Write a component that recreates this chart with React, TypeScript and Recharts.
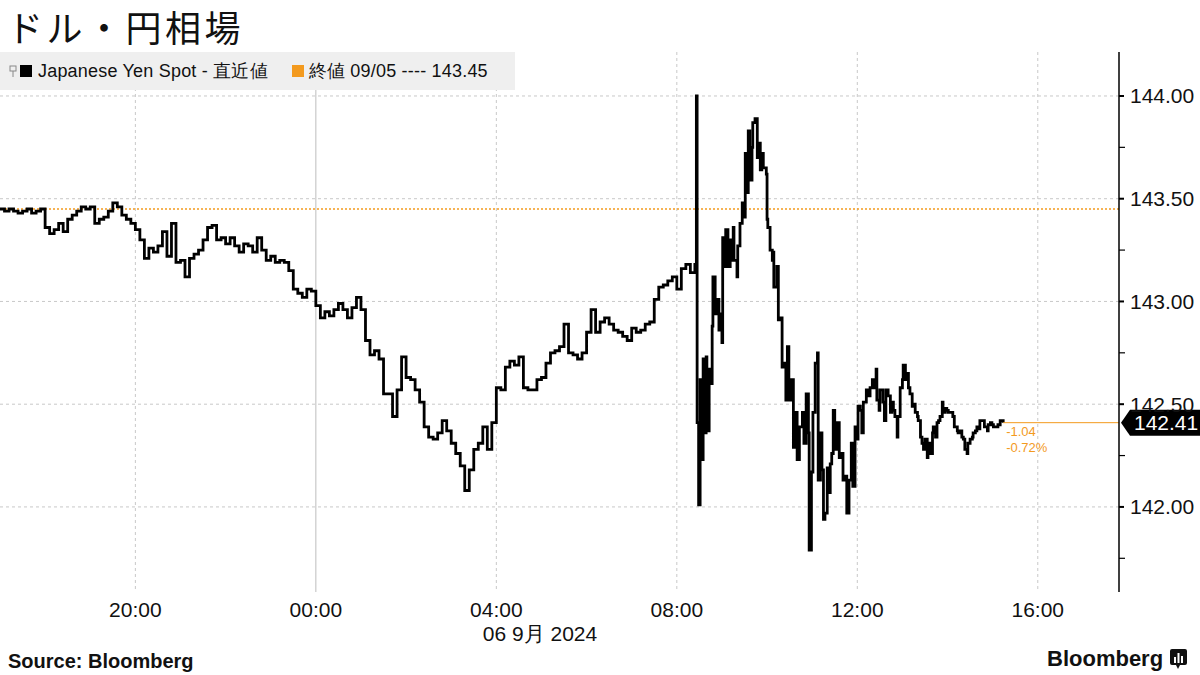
import { CartesianGrid, Line, LineChart, ReferenceLine, XAxis, YAxis } from 'recharts'

// USD/JPY spot, 5 Sep 17:00 -> 6 Sep 15:14 (Tokyo time)
const times = [
  '17:00', '17:06', '17:12', '17:18', '17:24', '17:30', '17:36', '17:42', '17:48', '17:54',
  '18:00', '18:06', '18:12', '18:18', '18:24', '18:30', '18:36', '18:42', '18:48', '18:54',
  '19:00', '19:06', '19:12', '19:18', '19:24', '19:30', '19:36', '19:42', '19:48', '19:54',
  '20:00', '20:06', '20:12', '20:18', '20:24', '20:30', '20:36', '20:42', '20:48', '20:54',
  '21:00', '21:06', '21:12', '21:18', '21:24', '21:30', '21:36', '21:42', '21:48', '21:54',
  '22:00', '22:06', '22:12', '22:18', '22:24', '22:30', '22:36', '22:42', '22:48', '22:54',
  '23:00', '23:06', '23:12', '23:18', '23:24', '23:30', '23:36', '23:42', '23:48', '23:54',
  '00:00', '00:06', '00:12', '00:18', '00:24', '00:30', '00:36', '00:42', '00:48', '00:54',
  '01:00', '01:06', '01:12', '01:18', '01:24', '01:30', '01:36', '01:42', '01:48', '01:54',
  '02:00', '02:06', '02:12', '02:18', '02:24', '02:30', '02:36', '02:42', '02:48', '02:54',
  '03:00', '03:06', '03:12', '03:18', '03:24', '03:30', '03:36', '03:42', '03:48', '03:54',
  '04:00', '04:06', '04:12', '04:18', '04:24', '04:30', '04:36', '04:42', '04:48', '04:54',
  '05:00', '05:06', '05:12', '05:18', '05:24', '05:30', '05:36', '05:42', '05:48', '05:54',
  '06:00', '06:06', '06:12', '06:18', '06:24', '06:30', '06:36', '06:42', '06:48', '06:54',
  '07:00', '07:06', '07:12', '07:18', '07:24', '07:30', '07:36', '07:42', '07:48', '07:54',
  '08:00', '08:06', '08:12', '08:18', '08:24',
  '08:26', '08:27', '08:29', '08:31', '08:32', '08:35', '08:36', '08:39', '08:40', '08:43',
  '08:45', '08:47', '08:48', '08:51', '08:53', '08:56', '08:59', '09:00', '09:01', '09:04',
  '09:05', '09:08', '09:11', '09:13', '09:15', '09:16', '09:20', '09:21', '09:24', '09:27',
  '09:28', '09:31', '09:33', '09:35', '09:37', '09:40', '09:41', '09:44', '09:47', '09:48',
  '09:51', '09:53', '09:55', '09:59', '10:00', '10:01', '10:04', '10:07', '10:08', '10:09',
  '10:13', '10:15', '10:17', '10:20', '10:23', '10:25', '10:27', '10:29', '10:32', '10:35',
  '10:37', '10:40', '10:43', '10:47', '10:49', '10:52', '10:55', '10:56', '10:59', '11:01',
  '11:04', '11:07', '11:08', '11:11', '11:13', '11:15', '11:17', '11:20', '11:21', '11:24',
  '11:26', '11:28', '11:30', '11:33', '11:36', '11:38', '11:41', '11:44', '11:46', '11:49',
  '11:52', '11:54', '11:57', '12:00', '12:01', '12:04', '12:06', '12:08', '12:12', '12:14',
  '12:17', '12:20', '12:22', '12:25', '12:26', '12:29', '12:30', '12:34', '12:36', '12:38',
  '12:41', '12:44', '12:46', '12:48', '12:50', '12:53', '12:54', '12:57', '13:00', '13:01',
  '13:04', '13:06', '13:08', '13:10', '13:13', '13:14', '13:17', '13:20', '13:21', '13:24',
  '13:26', '13:28', '13:30', '13:33', '13:34', '13:37', '13:40', '13:41', '13:44', '13:46',
  '13:48', '13:50', '13:53', '13:54', '13:57', '13:59', '14:01', '14:03', '14:07', '14:09',
  '14:13', '14:14', '14:17', '14:19', '14:21', '14:23', '14:26', '14:27', '14:30', '14:33',
  '14:34', '14:37', '14:39', '14:41', '14:43', '14:46', '14:49', '14:53', '14:54', '14:57',
  '14:59', '15:01', '15:03', '15:06', '15:07', '15:10', '15:14',
]

const spot = [
  143.45, 143.44, 143.45, 143.44, 143.43, 143.44, 143.45, 143.43, 143.44, 143.45,
  143.36, 143.33, 143.35, 143.38, 143.34, 143.40, 143.42, 143.44, 143.46, 143.45,
  143.46, 143.38, 143.40, 143.41, 143.44, 143.48, 143.46, 143.42, 143.40, 143.38,
  143.35, 143.30, 143.21, 143.26, 143.24, 143.27, 143.34, 143.22, 143.38, 143.19,
  143.20, 143.12, 143.21, 143.23, 143.25, 143.30, 143.36, 143.37, 143.30, 143.31,
  143.28, 143.31, 143.27, 143.24, 143.28, 143.27, 143.24, 143.31, 143.25, 143.20,
  143.22, 143.19, 143.20, 143.19, 143.15, 143.06, 143.04, 143.02, 143.06, 143.05,
  142.98, 142.92, 142.95, 142.93, 142.96, 142.99, 142.96, 142.92, 142.97, 143.02,
  142.96, 142.81, 142.74, 142.76, 142.72, 142.55, 142.55, 142.44, 142.57, 142.73,
  142.63, 142.62, 142.57, 142.51, 142.39, 142.34, 142.33, 142.36, 142.42, 142.37,
  142.31, 142.26, 142.20, 142.08, 142.18, 142.28, 142.31, 142.39, 142.28, 142.41,
  142.58, 142.57, 142.68, 142.71, 142.69, 142.73, 142.58, 142.57, 142.57, 142.62,
  142.63, 142.70, 142.75, 142.76, 142.78, 142.89, 142.75, 142.74, 142.72, 142.75,
  142.85, 142.96, 142.85, 142.90, 142.92, 142.89, 142.86, 142.85, 142.83, 142.81,
  142.87, 142.85, 142.86, 142.89, 142.90, 143.01, 143.07, 143.08, 143.10, 143.12,
  143.06, 143.16, 143.18, 143.14, 143.18,
  144.00, 142.41, 142.01, 142.62, 142.23, 142.72, 142.36, 142.73, 142.37, 142.67,
  142.60, 142.88, 143.12, 142.94, 143.01, 142.86, 142.94, 142.80, 143.31, 143.17,
  143.35, 143.17, 143.30, 143.20, 143.36, 143.20, 143.12, 143.27, 143.38, 143.48,
  143.41, 143.72, 143.53, 143.83, 143.59, 143.75, 143.87, 143.89, 143.70, 143.77,
  143.64, 143.72, 143.65, 143.62, 143.40, 143.36, 143.25, 143.20, 143.24, 143.07,
  143.17, 142.91, 142.92, 142.68, 142.70, 142.52, 142.78, 142.52, 142.62, 142.29,
  142.46, 142.23, 142.39, 142.46, 142.31, 142.55, 142.36, 141.79, 142.17, 142.46,
  142.70, 142.75, 142.13, 142.36, 142.18, 141.94, 141.97, 142.19, 142.07, 142.21,
  142.26, 142.47, 142.28, 142.41, 142.24, 142.26, 142.13, 142.15, 141.97, 142.13,
  142.31, 142.10, 142.39, 142.33, 142.49, 142.47, 142.36, 142.51, 142.57, 142.54,
  142.58, 142.62, 142.58, 142.67, 142.52, 142.47, 142.57, 142.51, 142.42, 142.57,
  142.54, 142.46, 142.51, 142.47, 142.44, 142.34, 142.44, 142.58, 142.62, 142.69,
  142.62, 142.65, 142.58, 142.55, 142.49, 142.50, 142.46, 142.44, 142.42, 142.34,
  142.31, 142.28, 142.33, 142.24, 142.31, 142.26, 142.36, 142.39, 142.34, 142.41,
  142.42, 142.44, 142.51, 142.46, 142.48, 142.47, 142.46, 142.46, 142.44, 142.39,
  142.37, 142.36, 142.37, 142.34, 142.33, 142.28, 142.26, 142.31, 142.33, 142.34,
  142.36, 142.37, 142.39, 142.38, 142.42, 142.42, 142.39, 142.37, 142.40, 142.41,
  142.40, 142.39, 142.39, 142.39, 142.40, 142.42, 142.41,
]

const xTickLabels = ['20:00', '00:00', '04:00', '08:00', '12:00', '16:00']
const yMajorTicks = [142, 142.5, 143, 143.5, 144]
const yMinorTicks = [141.75, 142.25, 142.75, 143.25, 143.75]
const dateLabel = '06 9月 2024'
const prevClose = 143.45
const prevCloseLabel = '終値 09/05 ---- 143.45'
const seriesLabel = 'Japanese Yen Spot - 直近値'
const lastPrice = 142.41
const netChange = '-1.04'
const pctChange = '-0.72%'

const X_START = -7
const X_END = 17.8
const Y_MIN = 141.586
const Y_MAX = 144.214
const ORANGE = '#f39a1e'

// times before 17:00 belong to 6 Sep, later ones to the evening before
const toHours = (t: string) => {
  const [h, m] = t.split(':').map(Number)
  const v = h + m / 60
  return h >= 17 ? v - 24 : v
}

const n = Math.min(times.length, spot.length)
const data = times.slice(0, n).map((t, i) => ({ t: toHours(t), v: spot[i] }))
const lastT = data[data.length - 1].t

const font = '"Liberation Sans", Arial, sans-serif'

function XTick({ x, y, payload }: any) {
  const h = ((payload.value % 24) + 24) % 24
  const label = `${String(h).padStart(2, '0')}:00`
  return (
    <text x={x} y={y + 25} textAnchor="middle" fontSize={21} fill="#111" fontFamily={font}>
      {label}
    </text>
  )
}

function YTick({ x, y, payload }: any) {
  const major = yMajorTicks.includes(payload.value)
  return (
    <g>
      <line x1={x} x2={x + (major ? 5 : 6)} y1={y} y2={y} stroke="#000" strokeWidth={major ? 2 : 1.2} />
      {major && (
        <text x={x + 11} y={y + 7.5} fontSize={21} fill="#111" fontFamily={font}>
          {payload.value.toFixed(2)}
        </text>
      )}
    </g>
  )
}

function LastPriceTag({ viewBox }: any) {
  if (!viewBox) return null
  const { x, y, width } = viewBox
  const right = x + width
  return (
    <g>
      <text x={x + 3} y={y + 13} fontSize={13} fill={ORANGE} fontFamily={font}>{netChange}</text>
      <text x={x + 3} y={y + 29} fontSize={13} fill={ORANGE} fontFamily={font}>{pctChange}</text>
      <polygon
        points={`${right + 2},${y} ${right + 11},${y - 13} ${right + 81},${y - 13} ${right + 81},${y + 13} ${right + 11},${y + 13}`}
        fill="#000"
      />
      <text x={right + 15} y={y + 7.5} fontSize={21} fill="#fff" fontFamily={font}>
        {lastPrice.toFixed(2)}
      </text>
    </g>
  )
}

export default function App() {
  return (
    <div style={{ position: 'absolute', left: 0, top: 0, width: 1200, height: 675, background: '#fff', overflow: 'hidden' }}>
      <LineChart width={1200} height={675} data={data} margin={{ top: 52, right: 0, bottom: 0, left: 0 }}>
        <CartesianGrid
          stroke="#c8c8c8"
          strokeDasharray="3 3"
          horizontalValues={yMajorTicks}
          verticalValues={[-4, 4, 8, 12, 16]}
        />
        <ReferenceLine x={0} stroke="#bdbdbd" strokeWidth={1} />
        <XAxis
          dataKey="t"
          type="number"
          domain={[X_START, X_END]}
          allowDataOverflow
          ticks={xTickLabels.map(toHours)}
          height={83}
          axisLine={false}
          tickLine={false}
          tickSize={0}
          tickMargin={0}
          tick={<XTick />}
        />
        <YAxis
          orientation="right"
          type="number"
          domain={[Y_MIN, Y_MAX]}
          allowDataOverflow
          ticks={[...yMinorTicks, ...yMajorTicks].sort((a, b) => a - b)}
          interval={0}
          width={81}
          axisLine={{ stroke: '#000', strokeWidth: 1.5 }}
          tickLine={false}
          tickSize={0}
          tickMargin={0}
          tick={<YTick />}
        />
        <ReferenceLine y={prevClose} stroke={ORANGE} strokeWidth={1.5} strokeDasharray="2 2" />
        <Line
          type="stepAfter"
          dataKey="v"
          stroke="#000"
          strokeWidth={2.8}
          dot={false}
          isAnimationActive={false}
        />
        <ReferenceLine
          segment={[{ x: lastT, y: lastPrice }, { x: X_END, y: lastPrice }]}
          stroke={ORANGE}
          strokeWidth={1}
          ifOverflow="visible"
          label={<LastPriceTag />}
        />
      </LineChart>

      <div style={{ position: 'absolute', left: 7, top: 0, fontSize: 36, lineHeight: 'normal', fontFamily: '"Noto Sans CJK JP", sans-serif', color: '#111', letterSpacing: 3.5, whiteSpace: 'nowrap' }}>
        ドル・円相場
      </div>

      <div style={{ position: 'absolute', left: 0, top: 52, width: 515, height: 38, background: '#efefef', display: 'flex', alignItems: 'center', fontFamily: font, fontSize: 18, color: '#111' }}>
        <svg width={8} height={14} style={{ marginLeft: 9, marginRight: 3 }}>
          <rect x={1} y={2} width={6} height={5} fill="none" stroke="#888" strokeWidth={1} />
          <line x1={4} x2={4} y1={7} y2={13} stroke="#888" strokeWidth={1} />
        </svg>
        <span style={{ width: 12, height: 12, background: '#000', marginRight: 6 }} />
        <span style={{ letterSpacing: 0.2 }}>{seriesLabel}</span>
        <span style={{ width: 12, height: 12, background: ORANGE, marginLeft: 24, marginRight: 5 }} />
        <span style={{ letterSpacing: 0.2 }}>{prevCloseLabel}</span>
      </div>

      <div style={{ position: 'absolute', left: 0, width: 1080, top: 620, textAlign: 'center', fontFamily: font, fontSize: 21, color: '#111' }}>
        {dateLabel}
      </div>

      <div style={{ position: 'absolute', left: 8, top: 650, fontFamily: font, fontSize: 20, fontWeight: 700, color: '#111' }}>
        Source: Bloomberg
      </div>

      <div style={{ position: 'absolute', left: 1047, top: 646, display: 'flex', alignItems: 'center', fontFamily: font, fontSize: 22, fontWeight: 700, color: '#111' }}>
        <span>Bloomberg</span>
        <svg width={19} height={22} style={{ marginLeft: 6 }}>
          <path d="M3 1 H16 Q18 1 18 3 V15 Q18 17 16 17 H11 L9 21 L7 17 H3 Q1 17 1 15 V3 Q1 1 3 1 Z" fill="#111" />
          <rect x={5} y={9} width={2} height={6} fill="#fff" />
          <rect x={8.5} y={5} width={2} height={10} fill="#fff" />
          <rect x={12} y={8} width={2} height={7} fill="#fff" />
        </svg>
      </div>
    </div>
  )
}
